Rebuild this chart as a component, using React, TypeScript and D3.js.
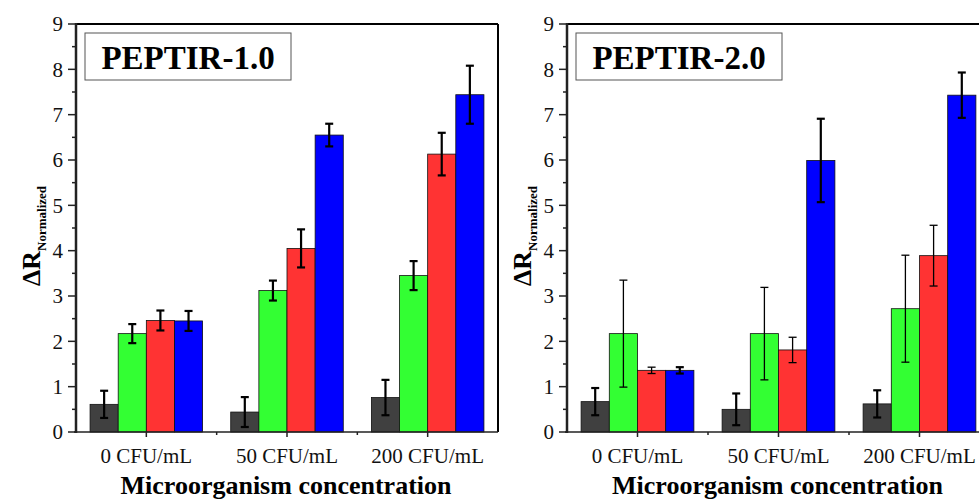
import React from "react";
import * as d3 from "d3";

// categories & series
const categories = ["0 CFU/mL", "50 CFU/mL", "200 CFU/mL"];
const seriesNames = ["s1", "s2", "s3", "s4"];
const seriesColors = ["#404040", "#33ff33", "#ff3333", "#0000ff"];
const yTicks = [0, 1, 2, 3, 4, 5, 6, 7, 8, 9];

// PEPTIR-1.0 (rows = categories, cols = series)
const peptir1Values = [
  [0.61, 2.17, 2.46, 2.45],
  [0.44, 3.12, 4.05, 6.55],
  [0.76, 3.45, 6.13, 7.44],
];
const peptir1Errors = [
  [0.3, 0.21, 0.22, 0.22],
  [0.33, 0.22, 0.42, 0.25],
  [0.39, 0.32, 0.47, 0.64],
];

// PEPTIR-2.0
const peptir2Values = [
  [0.67, 2.17, 1.36, 1.36],
  [0.5, 2.17, 1.81, 5.99],
  [0.62, 2.72, 3.89, 7.43],
];
const peptir2Errors = [
  [0.3, 1.18, 0.07, 0.07],
  [0.35, 1.02, 0.28, 0.92],
  [0.3, 1.18, 0.67, 0.5],
];

const serif = "Liberation Serif, Times New Roman, Tinos, DejaVu Serif, serif";

const panels = [
  { title: "PEPTIR-1.0", x0: 76, x1: 498, values: peptir1Values, errors: peptir1Errors, thin: [false, false, false, false] },
  { title: "PEPTIR-2.0", x0: 567, x1: 990, values: peptir2Values, errors: peptir2Errors, thin: [false, true, true, false] },
];

const top = 24;
const bottom = 432;

const y = d3.scaleLinear().domain([0, 9]).range([bottom, top]);

function Panel({ p }) {
  const x = d3.scaleBand().domain(categories).range([p.x0, p.x1]);
  const inner = d3
    .scaleBand()
    .domain(seriesNames)
    .range([-x.step() * 0.4, x.step() * 0.4]);
  const minor = d3.range(0, 9.01, 0.5).filter((v) => v % 1 !== 0);
  const cx = (c) => x(c) + x.bandwidth() / 2;

  return (
    <g style={{ fontFamily: serif }}>
      {/* bars */}
      {categories.map((c, ci) =>
        seriesNames.map((s, si) => {
          const v = p.values[ci][si];
          return (
            <rect
              key={c + s}
              x={cx(c) + inner(s)}
              y={y(v)}
              width={inner.bandwidth()}
              height={y(0) - y(v)}
              fill={seriesColors[si]}
              stroke="#111"
              strokeWidth={0.8}
            />
          );
        })
      )}
      {/* error bars */}
      {categories.map((c, ci) =>
        seriesNames.map((s, si) => {
          const v = p.values[ci][si];
          const e = p.errors[ci][si];
          const mx = cx(c) + inner(s) + inner.bandwidth() / 2;
          const sw = p.thin[si] ? 1.3 : 2.2;
          return (
            <g key={"e" + c + s} stroke="#000" strokeWidth={sw}>
              <line x1={mx} x2={mx} y1={y(v + e)} y2={y(v - e)} />
              <line x1={mx - 4} x2={mx + 4} y1={y(v + e)} y2={y(v + e)} />
              <line x1={mx - 4} x2={mx + 4} y1={y(v - e)} y2={y(v - e)} />
            </g>
          );
        })
      )}
      {/* frame */}
      <line x1={p.x0} x2={p.x1} y1={top} y2={top} stroke="#000" strokeWidth={2.2} />
      <line x1={p.x1} x2={p.x1} y1={top} y2={bottom} stroke="#000" strokeWidth={2} />
      <line x1={p.x0 - 2} x2={p.x1} y1={bottom} y2={bottom} stroke="#222" strokeWidth={1.5} />
      <line x1={p.x0} x2={p.x0} y1={top - 1} y2={bottom + 1} stroke="#222" strokeWidth={2.5} />
      {/* y ticks */}
      {yTicks.map((t) => (
        <g key={"yt" + t}>
          <line x1={p.x0 - 8} x2={p.x0} y1={y(t)} y2={y(t)} stroke="#222" strokeWidth={1.5} />
          <text x={p.x0 - 13} y={y(t)} dy="0.35em" textAnchor="end" fontSize={21} fill="#111">
            {t}
          </text>
        </g>
      ))}
      {minor.map((t) => (
        <line key={"ym" + t} x1={p.x0 - 4} x2={p.x0} y1={y(t)} y2={y(t)} stroke="#222" strokeWidth={1.5} />
      ))}
      {/* x ticks */}
      {categories.map((c) => (
        <g key={"xt" + c}>
          <line x1={cx(c)} x2={cx(c)} y1={bottom} y2={bottom + 5} stroke="#222" strokeWidth={1.5} />
          <text x={cx(c)} y={463} textAnchor="middle" fontSize={21} fill="#111">
            {c}
          </text>
        </g>
      ))}
      {categories.slice(1).map((c) => (
        <line key={"xm" + c} x1={x(c)} x2={x(c)} y1={bottom} y2={bottom + 3} stroke="#222" strokeWidth={1.5} />
      ))}
      {/* axis titles */}
      <text x={(p.x0 + p.x1) / 2 - 1} y={494} textAnchor="middle" fontWeight="bold" fontSize={26} fill="#000">
        Microorganism concentration
      </text>
      <text
        transform={`translate(${p.x0 - 36},${236}) rotate(-90)`}
        textAnchor="middle"
        fontWeight="bold"
        fill="#000"
      >
        <tspan fontSize={26}>ΔR</tspan>
        <tspan fontSize={13} dy={6}>
          Normalized
        </tspan>
      </text>
      {/* title box */}
      <rect x={p.x0 + 9} y={33} width={206} height={47} fill="#fff" stroke="#555" strokeWidth={1} />
      <text x={p.x0 + 112} y={69} textAnchor="middle" fontWeight="bold" fontSize={33} fill="#000">
        {p.title}
      </text>
    </g>
  );
}

export default function App() {
  return (
    <svg
      width={979}
      height={501}
      style={{ position: "absolute", left: 0, top: 0, background: "#fff" }}
    >
      {panels.map((p) => (
        <Panel key={p.title} p={p} />
      ))}
    </svg>
  );
}
